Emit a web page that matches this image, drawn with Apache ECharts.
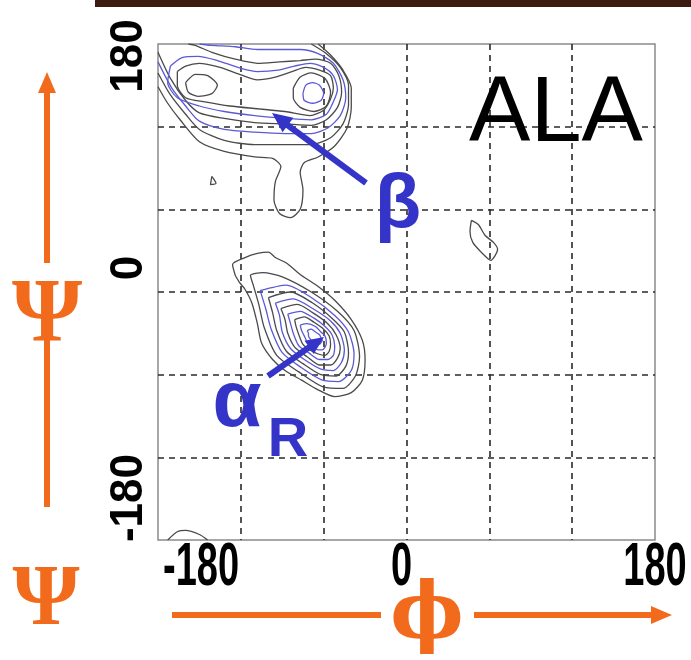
<!DOCTYPE html>
<html><head><meta charset="utf-8">
<script src="https://cdn.jsdelivr.net/npm/echarts@6/dist/echarts.min.js"></script>
<style>html,body{margin:0;padding:0;background:#fff}#c{width:691px;height:660px}</style>
</head><body><div id="c"></div>
<script>
// axis tick labels (degrees)
const xTicks = [-180, 0, 180];
const yTicks = [180, 0, -180];

// beta-region contours [phi, psi]
const betaL1 = [[-180,149],[-173,137],[-164,125],[-150,109],[-132,102],[-110,98],[-97,97],[-91,91],[-95,80],[-96,67],[-92,57],[-84,54],[-77,60],[-75,74],[-77,87],[-74,94],[-64,98],[-52,106],[-43,119],[-40,134],[-40,148],[-46,161],[-55,172],[-64,180]];
const betaL2 = [[-180,159],[-171,143],[-160,129],[-150,118],[-132,110],[-110,107],[-88,107],[-69,107],[-55,112],[-46,122],[-42,136],[-42,150],[-48,163],[-58,173],[-69,180]];
const betaL3 = [[-180,167],[-170,148],[-160,135],[-150,124],[-132,118],[-110,116],[-88,115],[-69,115],[-57,119],[-48,128],[-44,141],[-46,154],[-53,166],[-64,173],[-77,176],[-92,176],[-108,176],[-124,178],[-141,179],[-150,180]];
const betaL4 = [[-180,174],[-171,155],[-160,139],[-150,130],[-132,126],[-110,123],[-88,122],[-69,121],[-58,125],[-50,134],[-47,145],[-49,157],[-55,166],[-66,169],[-77,168],[-92,167],[-108,166],[-124,169],[-141,174],[-153,179],[-158,180]];
const betaL5 = [[-171,164],[-173,152],[-166,141],[-150,135],[-132,131],[-110,128],[-88,126],[-69,125],[-58,129],[-53,138],[-50,147],[-53,157],[-60,163],[-70,166],[-81,164],[-93,161],[-108,160],[-122,163],[-137,168],[-151,171],[-163,170],[-171,164]];
const betaL6 = [[-166,160],[-166,150],[-160,141],[-146,138],[-128,135],[-108,133],[-88,131],[-70,128],[-60,132],[-55,140],[-53,148],[-55,157],[-63,161],[-73,163],[-83,160],[-95,156],[-108,154],[-121,158],[-135,163],[-150,166],[-160,164],[-166,160]];
const betaL7L = [[-160,152],[-153,158],[-144,157],[-137,150],[-141,144],[-151,142],[-158,145],[-160,152]];
const betaL7R = [[-82,148],[-77,156],[-69,159],[-59,155],[-55,145],[-58,135],[-67,131],[-77,134],[-82,141],[-82,148]];
const betaL8R = [[-75,144],[-73,150],[-68,152],[-63,150],[-60,144],[-62,139],[-68,137],[-74,139],[-75,144]];
const betaDot = [[-141,84],[-138,79],[-142,78],[-141,84]];
const rightIsland = [[47,52],[52,49],[57,41],[63,36],[66,31],[61,23],[55,28],[48,36],[46,44],[47,52]];
const cornerArc = [[-173,-180],[-166,-174],[-160,-173],[-150,-176],[-144,-180]];

// alpha-R region contours [phi, psi]
const alphaA1 = [[-124,12],[-126,20],[-117,25],[-108,28],[-100,29],[-95,25],[-87,21],[-76,12],[-64,4],[-52,-6],[-40,-20],[-32,-35],[-30,-49],[-32,-64],[-40,-73],[-52,-76],[-64,-71],[-76,-64],[-88,-57],[-97,-49],[-105,-37],[-108,-23],[-112,-8],[-117,2],[-121,7],[-124,12]];
const alphaA2 = [[-111,5],[-113,12],[-104,14],[-90,11],[-69,0],[-50,-14],[-38,-28],[-34,-47],[-37,-61],[-46,-70],[-60,-69],[-78,-58],[-94,-46],[-103,-26],[-107,-9],[-111,5]];
const alphaA3 = [[-106,1],[-87,5],[-69,-4],[-52,-17],[-42,-29],[-38,-45],[-40,-57],[-49,-65],[-61,-64],[-76,-55],[-90,-44],[-98,-27],[-102,-12],[-106,1]];
const alphaA4 = [[-100,-4],[-84,0],[-68,-8],[-54,-19],[-45,-29],[-42,-44],[-44,-54],[-51,-61],[-62,-60],[-75,-52],[-87,-43],[-94,-28],[-97,-15],[-100,-4]];
const alphaA5 = [[-95,-8],[-82,-5],[-68,-12],[-55,-21],[-48,-30],[-45,-42],[-47,-51],[-53,-57],[-62,-56],[-74,-49],[-84,-41],[-90,-29],[-92,-17],[-95,-8]];
const alphaA6 = [[-91,-12],[-79,-9],[-68,-15],[-57,-23],[-51,-31],[-48,-41],[-50,-48],[-55,-53],[-63,-53],[-72,-47],[-81,-40],[-86,-30],[-88,-20],[-91,-12]];
const alphaA7 = [[-86,-16],[-77,-14],[-67,-19],[-59,-25],[-54,-31],[-52,-39],[-53,-46],[-57,-49],[-63,-49],[-71,-44],[-78,-39],[-82,-30],[-84,-23],[-86,-16]];
const alphaA8 = [[-81,-20],[-74,-18],[-67,-22],[-60,-27],[-56,-32],[-55,-38],[-56,-43],[-59,-46],[-64,-45],[-70,-42],[-75,-38],[-78,-31],[-80,-25],[-81,-20]];
const alphaA9 = [[-77,-24],[-72,-23],[-66,-25],[-62,-29],[-59,-32],[-58,-37],[-59,-40],[-61,-42],[-64,-42],[-69,-39],[-72,-36],[-74,-32],[-76,-28],[-77,-24]];
const alphaA10 = [[-72,-28],[-69,-27],[-66,-29],[-63,-31],[-62,-33],[-61,-35],[-62,-37],[-63,-38],[-65,-38],[-67,-37],[-69,-35],[-71,-32],[-71,-30],[-72,-28]];

const GRAY = '#4a4a4a', BLUE = '#5a5ad4';
const contours = [
  [betaL1, GRAY],[betaL2, GRAY],[betaL3, BLUE],[betaL4, GRAY],[betaL5, BLUE],[betaL6, GRAY],
  [betaL7L, GRAY],[betaL7R, GRAY],[betaL8R, BLUE],[betaDot, GRAY],[rightIsland, GRAY],[cornerArc, GRAY],
  [alphaA1, GRAY],[alphaA2, GRAY],[alphaA3, BLUE],[alphaA4, GRAY],[alphaA5, BLUE],[alphaA6, GRAY],
  [alphaA7, BLUE],[alphaA8, GRAY],[alphaA9, BLUE],[alphaA10, BLUE]
];

const chart = echarts.init(document.getElementById('c'), null, {renderer:'canvas'});
const axisCommon = {
  type:'value', min:-180, max:180, interval:60,
  axisLine:{show:false}, axisTick:{show:false}, axisLabel:{show:false},
  splitLine:{show:true, showMinLine:false, showMaxLine:false, lineStyle:{type:[6,5], color:'#2a2a2a', width:1.6}}
};
chart.setOption({
  backgroundColor:'#fff',
  animation:false,
  grid:{left:158, top:44, width:497, height:496, show:true, borderColor:'#8a8a8a', borderWidth:1.5, backgroundColor:'#fff'},
  xAxis: Object.assign({}, axisCommon),
  yAxis: Object.assign({}, axisCommon),
  series: contours.map(function(c){
    return {type:'line', data:c[0], symbol:'none', smooth:0.25, clip:true,
      lineStyle:{color:c[1], width:1.3}, z:3, silent:true};
  })
});

const ORANGE = '#f26b1d', NAVY = '#3434c8';
const g = [];
g.push({type:'rect', shape:{x:95, y:0, width:596, height:7}, style:{fill:'#3b1a12'}, z:10});
function px(v){ return chart.convertToPixel({gridIndex:0}, v); }
const tickFont = 'bold 38px "Liberation Sans", Arial, sans-serif';
xTicks.forEach(function(v){
  const p = px([v, -180]);
  const align = v === -180 ? 'left' : 'center';
  const dx = v === -180 ? 5 : (v === 0 ? -5 : 0);
  g.push({type:'text', x:p[0]+dx, y:p[1]+28, scaleY:1.6,
    style:{text:String(v), font:tickFont, fill:'#000', textAlign:align, textVerticalAlign:'middle'}, z:10});
});
const yOff = {'180':12, '0':-24, '-180':-42};
yTicks.forEach(function(v){
  const p = px([-180, v]);
  g.push({type:'text', x:p[0]-29, y:p[1]+yOff[String(v)], rotation:Math.PI/2, scaleY:1.05,
    style:{text:String(v), font:'bold 44px "Liberation Sans", Arial, sans-serif', fill:'#000', textAlign:'center', textVerticalAlign:'middle'}, z:10});
});
g.push({type:'text', x:556, y:116, style:{text:'ALA', font:'92px "Liberation Sans", Arial, sans-serif', fill:'#000', textAlign:'center', textVerticalAlign:'middle'}, z:10});
g.push({type:'text', x:398, y:206, style:{text:'β', font:'bold 76px "Liberation Sans", Arial, sans-serif', fill:NAVY, textAlign:'center', textVerticalAlign:'middle'}, z:10});
g.push({type:'line', shape:{x1:366, y1:183, x2:286, y2:124}, style:{stroke:NAVY, lineWidth:6}, z:10});
g.push({type:'polygon', shape:{points:[[272,113],[282.6,132.2],[293.4,117.8]]}, style:{fill:NAVY}, z:10});
g.push({type:'text', x:237, y:404, style:{text:'α', font:'bold 80px "Liberation Sans", Arial, sans-serif', fill:NAVY, textAlign:'center', textVerticalAlign:'middle'}, z:10});
g.push({type:'text', x:288, y:441, style:{text:'R', font:'bold 56px "Liberation Sans", Arial, sans-serif', fill:NAVY, textAlign:'center', textVerticalAlign:'middle'}, z:10});
g.push({type:'line', shape:{x1:268, y1:376, x2:311, y2:346}, style:{stroke:NAVY, lineWidth:6}, z:10});
g.push({type:'polygon', shape:{points:[[324,337],[304.6,340.7],[313.8,353.9]]}, style:{fill:NAVY}, z:10});
g.push({type:'line', shape:{x1:47, y1:263, x2:47, y2:88}, style:{stroke:ORANGE, lineWidth:6}, z:10});
g.push({type:'polygon', shape:{points:[[47,72],[38,93],[56,93]]}, style:{fill:ORANGE}, z:10});
g.push({type:'line', shape:{x1:47, y1:335, x2:47, y2:507}, style:{stroke:ORANGE, lineWidth:6}, z:10});
g.push({type:'text', x:47, y:318, style:{text:'Ψ', font:'bold 90px "Liberation Serif", serif', fill:ORANGE, textAlign:'center', textVerticalAlign:'middle'}, z:11});
g.push({type:'text', x:46, y:602, style:{text:'Ψ', font:'bold 86px "Liberation Serif", serif', fill:ORANGE, textAlign:'center', textVerticalAlign:'middle'}, z:11});
g.push({type:'line', shape:{x1:172, y1:615, x2:381, y2:615}, style:{stroke:ORANGE, lineWidth:6}, z:10});
g.push({type:'line', shape:{x1:474, y1:615, x2:655, y2:615}, style:{stroke:ORANGE, lineWidth:6}, z:10});
g.push({type:'polygon', shape:{points:[[672,615],[651,606],[651,624]]}, style:{fill:ORANGE}, z:10});
g.push({type:'text', x:427, y:618, style:{text:'ϕ', font:'bold 78px "DejaVu Serif", serif', fill:ORANGE, textAlign:'center', textVerticalAlign:'middle'}, z:11});

chart.setOption({graphic:{elements:g}});
</script></body></html>
